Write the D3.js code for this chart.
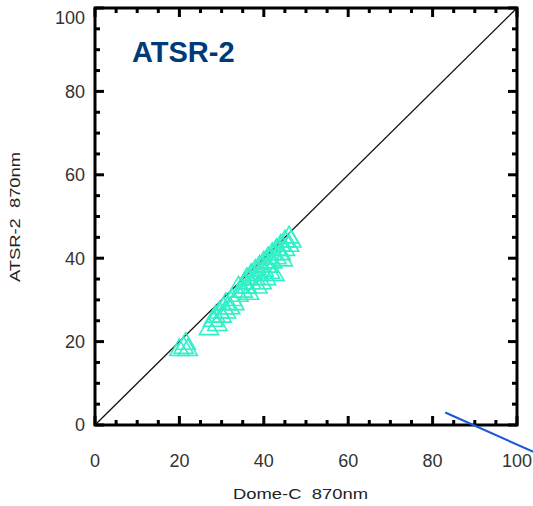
<!DOCTYPE html>
<html>
<head>
<meta charset="utf-8">
<script src="https://cdn.jsdelivr.net/npm/d3@7"></script>
<style>
  body { margin: 0; background: #fff; }
  svg { display: block; font-family: Arial, "Liberation Sans", sans-serif; }
</style>
</head>
<body>
<svg id="chart" width="533" height="506"></svg>
<script>
// Dome-C vs ATSR-2 reflectance at 870nm
const domeC = [20, 21, 22, 21.5, 27, 28, 28.5, 29, 29.5, 30, 30.5, 31, 31, 32, 32.5, 33,
  34, 34, 35, 35.5, 36, 36, 37, 37, 38, 38, 38.5, 39, 39, 40, 40, 40.5, 41, 41, 42, 42,
  42.5, 43, 43, 44, 44, 45, 45, 46, 46, 46.5, 36.5, 39.5, 41.5, 44.5];
const atsr2 = [18, 18.5, 18, 19.5, 23, 25, 26, 24, 27, 26, 28, 27, 29, 28, 30, 29,
  31, 33, 32, 34, 33, 35, 34, 36, 35, 37, 33, 36, 38, 37, 39, 35, 38, 40, 39, 41,
  36, 40, 42, 41, 43, 42, 44, 43, 45, 44, 31.5, 34, 36.5, 39.5];
const xTicks = [0, 20, 40, 60, 80, 100];
const yTicks = [0, 20, 40, 60, 80, 100];
const minorTicks = d3.range(0, 101, 5);
const arrowFrom = [83, 3];
const arrowTo = [104, -6.5];

const svg = d3.select("#chart");
const margin = { top: 8, right: 16, bottom: 81, left: 95 };
const width = 533 - margin.left - margin.right;
const height = 506 - margin.top - margin.bottom;

const x = d3.scaleLinear().domain([0, 100]).range([0, width]);
const y = d3.scaleLinear().domain([0, 100]).range([height, 0]);

const g = svg.append("g").attr("transform", `translate(${margin.left},${margin.top})`);

// 1:1 line
g.append("line")
  .attr("x1", x(0)).attr("y1", y(0))
  .attr("x2", x(100)).attr("y2", y(100))
  .attr("stroke", "#111").attr("stroke-width", 1.3);

// triangles
const tri = d3.symbol().type(d3.symbolTriangle).size(160);
g.append("g")
  .attr("fill", "none")
  .attr("stroke", "#2ff0c6")
  .attr("stroke-width", 1.6)
  .selectAll("path")
  .data(domeC.map((d, i) => ({ x: d, y: atsr2[i] })))
  .join("path")
  .attr("transform", d => `translate(${x(d.x)},${y(d.y)})`)
  .attr("d", tri);

// frame ticks (inward), on all four sides
const tickLen = v => (v % 20 === 0 ? 9 : 5);
const ticks = g.append("g").attr("stroke", "#000").attr("stroke-width", 3);
minorTicks.forEach(v => {
  ticks.append("line").attr("x1", x(v)).attr("x2", x(v)).attr("y1", height).attr("y2", height - tickLen(v));
  ticks.append("line").attr("x1", x(v)).attr("x2", x(v)).attr("y1", 0).attr("y2", tickLen(v));
  ticks.append("line").attr("y1", y(v)).attr("y2", y(v)).attr("x1", 0).attr("x2", tickLen(v));
  ticks.append("line").attr("y1", y(v)).attr("y2", y(v)).attr("x1", width).attr("x2", width - tickLen(v));
});

g.append("rect")
  .attr("width", width).attr("height", height)
  .attr("fill", "none").attr("stroke", "#000").attr("stroke-width", 3);

// tick labels
g.append("g").selectAll("text").data(xTicks).join("text")
  .attr("x", d => x(d)).attr("y", height + 42)
  .attr("text-anchor", "middle")
  .attr("font-size", 18).attr("fill", "#333")
  .text(d => d);

g.append("g").selectAll("text").data(yTicks).join("text")
  .attr("x", -10).attr("y", d => Math.max(y(d), 10))
  .attr("dy", "0.35em")
  .attr("text-anchor", "end")
  .attr("font-size", 18).attr("fill", "#333")
  .text(d => d);

// axis titles
svg.append("text")
  .attr("x", 233).attr("y", 499)
  .attr("font-size", 15).attr("fill", "#222")
  .attr("textLength", 135).attr("lengthAdjust", "spacingAndGlyphs")
  .attr("xml:space", "preserve")
  .text("Dome-C  870nm");

svg.append("text")
  .attr("transform", `translate(20,282) rotate(-90)`)
  .attr("font-size", 15).attr("fill", "#222")
  .attr("textLength", 130).attr("lengthAdjust", "spacingAndGlyphs")
  .attr("xml:space", "preserve")
  .text("ATSR-2  870nm");

// panel title
g.append("text")
  .attr("x", 37).attr("y", 54)
  .attr("font-size", 29).attr("font-weight", "bold").attr("fill", "#003a78")
  .text("ATSR-2");

// stray blue pointer line
svg.append("line")
  .attr("x1", margin.left + x(arrowFrom[0])).attr("y1", margin.top + y(arrowFrom[1]))
  .attr("x2", margin.left + x(arrowTo[0])).attr("y2", margin.top + y(arrowTo[1]))
  .attr("stroke", "#1a5ad8").attr("stroke-width", 2);
</script>
</body>
</html>
